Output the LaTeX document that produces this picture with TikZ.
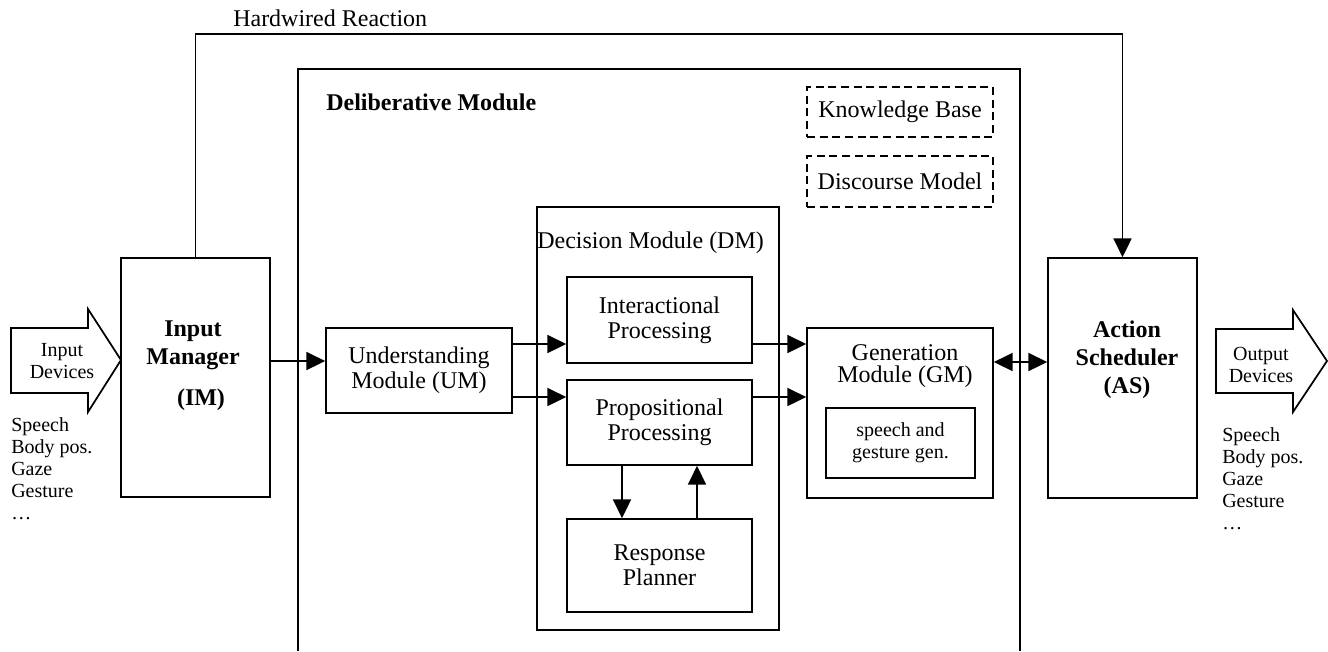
\documentclass[tikz,border=0pt]{standalone}
\usepackage{fontspec}
\setmainfont{Liberation Serif}
\usetikzlibrary{arrows.meta}

\tikzset{
	blk/.style={draw, line width=1.3pt, align=center, inner sep=0pt},
	kbox/.style={blk, dash pattern=on 6pt off 3.5pt, line width=1.6pt},
	txtbig/.style={font=\fontsize{18}{18.75}\selectfont, align=center},
	txtbold/.style={font=\fontsize{18}{20.5}\selectfont\bfseries, align=center},
	txtsmall/.style={font=\fontsize{15}{16.5}\selectfont, align=center},
	arr/.style={line width=1.3pt, -{Triangle[length=14pt,width=13.5pt]}},
	dbl/.style={line width=1.3pt, {Triangle[length=14pt,width=13.5pt]}-{Triangle[length=14pt,width=13.5pt]}}
}

\begin{document}
\begin{tikzpicture}[x=0.75pt, y=-0.75pt]
	%%%%% START %%%%%
	\useasboundingbox (0,0) rectangle (1328,651);
	
	\node[txtbig, anchor=base west, inner sep=0pt] (hwlab) at (233,26) {Hardwired Reaction};
	
	% deliberative module
	\draw[line width=1.3pt] (298,651) -- (298,69) -- (1020,69) -- (1020,651);
	\node[txtbold, anchor=base west, inner sep=0pt] (dlab) at (326,110) {Deliberative Module};
	
	\node[kbox, txtbig, minimum width=139.5pt, minimum height=37.5pt] (kb) at (900,112) {Knowledge Base};
	\node[kbox, txtbig, minimum width=139.5pt, minimum height=38.25pt] (dmod) at (900,181.5) {Discourse Model};
	
	% input side
	\draw[line width=1.3pt] (11,328) -- (88,328) -- (88,309) -- (121,360) -- (88,412) -- (88,393) -- (11,393) -- cycle;
	\node[txtsmall] (indev) at (62,361) {Input\\Devices};
	\foreach \t [count=\i] in {Speech,Body pos.,Gaze,Gesture,…}
		\node[txtsmall, anchor=base west, inner sep=0pt] (inl\i) at (11,{431+22*(\i-1)}) {\t};
	
	\node[blk, minimum width=111.75pt, minimum height=179.25pt] (im) at (195.5,377.5) {};
	\node[txtbold] (imlab) at (193,366) {Input\\Manager\\[10.5pt]\hspace*{12pt}(IM)};
	
	\node[blk, txtbig, minimum width=139.5pt, minimum height=63.75pt] (um) at (419,370.5) {Understanding\\Module (UM)};
	
	% decision module
	\node[blk, minimum width=181.5pt, minimum height=317.25pt] (dm) at (658,418.5) {};
	\node[txtbig, anchor=base west, inner sep=0pt] (dmlab) at (537,248) {Decision Module (DM)};
	\node[blk, txtbig, minimum width=138.75pt, minimum height=64.5pt] (ip) at (659.5,320) {Interactional\\Processing};
	\node[blk, txtbig, minimum width=138.75pt, minimum height=63.75pt] (pp) at (659.5,422.5) {Propositional\\Processing};
	\node[blk, txtbig, minimum width=138.75pt, minimum height=69.75pt] (rp) at (659.5,565.5) {Response\\Planner};
	
	% generation module
	\node[blk, minimum width=139.5pt, minimum height=127.5pt] (gm) at (900,413) {};
	\node[txtbig, font=\fontsize{18}{17}\selectfont] (gmlab) at (905,366) {Generation\\Module (GM)};
	\node[blk, txtsmall, minimum width=111.75pt, minimum height=52.5pt] (sg) at (900.5,443) {speech and\\gesture gen.};
	
	% action scheduler
	\node[blk, minimum width=111.75pt, minimum height=180pt] (as) at (1122.5,378) {};
	\node[txtbold, font=\fontsize{18}{21}\selectfont\bfseries] (aslab) at (1127,360) {Action\\Scheduler\\(AS)};
	
	% output side
	\draw[line width=1.3pt] (1216,329) -- (1293,329) -- (1293,310) -- (1327,361) -- (1293,412) -- (1293,393) -- (1216,393) -- cycle;
	\node[txtsmall] (outdev) at (1261,365) {Output\\Devices};
	\foreach \t [count=\i] in {Speech,Body pos.,Gaze,Gesture,…}
		\node[txtsmall, anchor=base west, inner sep=0pt] (outl\i) at (1222,{441+22*(\i-1)}) {\t};
	
	% connectors
	\coordinate (ya) at (0,344);
	\coordinate (yb) at (0,397);
	\coordinate (yc) at (0,361);
	\coordinate (yd) at (0,362);
	\coordinate (xa) at (622,0);
	\coordinate (xb) at (697,0);
	
	\draw[arr] (im.north) -- ++(0,-223) -| (as.north);
	\draw[arr] (im.east |- yc) -- (um.west |- yc);
	\draw[arr] (um.east |- ya) -- (ip.west |- ya);
	\draw[arr] (um.east |- yb) -- (pp.west |- yb);
	\draw[arr] (ip.east |- ya) -- (gm.west |- ya);
	\draw[arr] (pp.east |- yb) -- (gm.west |- yb);
	\draw[arr] (pp.south -| xa) -- (rp.north -| xa);
	\draw[arr] (rp.north -| xb) -- (pp.south -| xb);
	\draw[dbl] (gm.east |- yd) -- (as.west |- yd);
	
	%%%%% END %%%%%
\end{tikzpicture}
\end{document}
